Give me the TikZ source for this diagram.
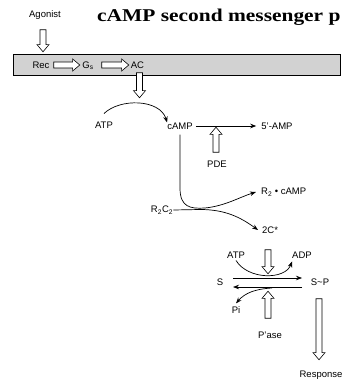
\documentclass[tikz,border=0pt]{standalone}
\usepackage{fontspec}
\setmainfont{Liberation Sans}
\newfontfamily\titleserif{Liberation Serif}
\usetikzlibrary{arrows.meta,shapes.arrows}
\begin{document}
\begin{tikzpicture}[x=1pt,y=-1pt,
  lbl/.style={font=\fontsize{9.5}{11}\selectfont, inner sep=0pt},
  harrow/.style={single arrow, draw, fill=white, line width=0.6pt,
    inner xsep=0pt, inner ysep=2.7pt, text width=0pt, text height=0pt, text depth=0pt,
    single arrow head extend=3pt, single arrow head indent=0pt, single arrow tip angle=80},
  conn/.style={line width=0.7pt, -{Stealth[length=6pt,width=4.5pt]}},
  plain/.style={line width=0.7pt}]
\useasboundingbox (0,0) rectangle (343,379);
% title
\node[anchor=base west, inner sep=0pt, font=\titleserif\bfseries\fontsize{18}{20}\selectfont] (title) at (97,22) {\scalebox{1.19}[1]{cAMP second messenger p}};
% membrane bar
\node[draw, fill=gray!35, line width=0.6pt, minimum width=327pt, minimum height=21pt, inner sep=0pt] (bar) at (176.5,64.5) {};
\node[lbl] (ag) at (45,15) {Agonist};
\node[harrow, minimum height=22pt, rotate=-90] (agarr) at (43,39) {};
\node[lbl] (rec) at (41,65) {Rec};
\node[harrow, minimum height=26pt] (a1) at (65,65) {};
\node[lbl] (gs) at (88,65.5) {G\textsubscript{s}};
\node[harrow, minimum height=27pt] (a2) at (113.5,65) {};
\node[lbl] (ac) at (137.5,65) {AC};
\node[harrow, minimum height=25pt, rotate=-90] (acarr) at (139.5,83.5) {};
% cAMP production
\node[lbl] (atp) at (104,125) {ATP};
\node[lbl] (camp) at (180,126) {cAMP};
\node[lbl] (amp) at (277,126) {5'-AMP};
\draw[conn] ([yshift=8pt]atp.north) .. controls (120,98) and (160,99) .. (camp.north west);
\draw[conn] (camp.east) ++(3pt,0) coordinate (campE) -- ([xshift=-5pt]amp.west);
\node[harrow, minimum height=25pt, rotate=90] (pdearr) at (216,141.5) {};
\node[lbl] (pde) at (217,164) {PDE};
% R2C2 dissociation
\node[lbl] (r2c2) at (162,210) {R\textsubscript{2}C\textsubscript{2}};
\node[lbl, anchor=west] (r2camp) at (261,192) {R\textsubscript{2} • cAMP};
\node[lbl, anchor=west] (c2) at (262,230) {2C*};
\draw[conn] ([yshift=-5pt]camp.south) -- (180,188) .. controls (180,207) and (190,209) .. (205,208) .. controls (225,206) and (240,197) .. ([xshift=-5pt]r2camp.west);
\draw[conn] (r2c2.east) -- (200,209.5) .. controls (225,209.5) and (240,217) .. ([xshift=-4pt]c2.west);
% phosphorylation
\node[harrow, minimum height=24pt, rotate=-90] (c2arr) at (268,260) {};
\node[lbl] (atp2) at (236,255) {ATP};
\node[lbl] (adp) at (302,255) {ADP};
\node[lbl] (s) at (220,282) {S};
\node[lbl] (sp) at (320,282) {S\textasciitilde P};
\coordinate (upL) at (233,278);
\coordinate (upR) at (302,278);
\coordinate (loL) at (233,287);
\coordinate (loR) at (302,287);
\draw[conn] (upL) -- (upR);
\draw[conn] (loR) -- (loL);
\draw[conn] ([yshift=-2pt]atp2.south) .. controls (248,280) and (285,280) .. ([yshift=-3pt]adp.south west);
\coordinate (piS) at (272,288);
\node[lbl] (pi) at (236,310) {Pi};
\draw[conn] (piS) .. controls (255,289) and (245,293) .. ([yshift=3pt]pi.north);
\node[harrow, minimum height=27pt, rotate=90] (pasearr) at (268,306.5) {};
\node[lbl] (pase) at (270,335) {P'ase};
\node[harrow, minimum height=61pt, rotate=-90] (resparr) at (319,327.5) {};
\node[lbl] (resp) at (321,375) {Response};
\end{tikzpicture}
\end{document}
